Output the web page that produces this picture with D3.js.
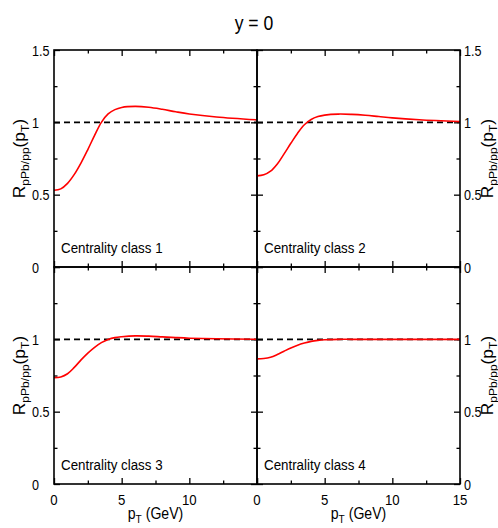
<!DOCTYPE html>
<html>
<head>
<meta charset="utf-8">
<script src="https://cdn.jsdelivr.net/npm/d3@7/dist/d3.min.js"></script>
<style>
body{margin:0;background:#fff;}
text{font-family:"Liberation Sans",Arial,Helvetica,sans-serif;fill:#000;}
</style>
</head>
<body>
<svg id="chart" width="498" height="528"></svg>
<script>
'use strict';

//Data
var ptVals = [0,0.5,1,1.5,2,2.5,3,3.5,4,4.5,5,6,7,8,9,10,12,15];
var class1 = [0.53,0.54,0.578,0.64,0.72,0.812,0.91,1.0,1.058,1.088,1.103,1.11,1.104,1.09,1.073,1.058,1.037,1.017];
var class2 = [0.63,0.637,0.662,0.712,0.782,0.855,0.925,0.983,1.02,1.04,1.05,1.057,1.055,1.049,1.04,1.031,1.018,1.005];
var class3 = [0.735,0.74,0.762,0.806,0.858,0.905,0.945,0.977,0.999,1.012,1.018,1.024,1.022,1.017,1.012,1.008,1.004,1.0];
var class4 = [0.865,0.867,0.876,0.895,0.918,0.94,0.959,0.974,0.986,0.993,0.997,1.0,1.0,1.0,1.0,1.0,1.0,1.0];
var classNames = ['Centrality class 1','Centrality class 2','Centrality class 3','Centrality class 4'];
var xMajor = [0,5,10,15];
var xMinor = [2.5,7.5,12.5];
var yMajor = [0,0.5,1,1.5];
var yMinor = [0.25,0.75,1.25];
var refLevel = 1;

var svg = d3.select('#chart');

//Panel boxes
var colX = [[54,257],[257,460]];
var rowY = [[50,267],[267,484]];
var series = [class1,class2,class3,class4];

//Condensed text helper
var addText = function(g,x,y,txt,size,anchor,sx){
	return g.append('text')
		.attr('transform','translate('+x+','+y+') scale('+sx+',1)')
		.attr('font-size',size)
		.attr('text-anchor',anchor)
		.text(txt);
};

var yFmt = function(d){ return d === 0 ? '0' : String(d); };

var line = d3.line().curve(d3.curveCatmullRom.alpha(0.5));

for(var i=0; i<4; i++){
	var col = i % 2;
	var row = Math.floor(i/2);
	var x = d3.scaleLinear().domain([0,15]).range(colX[col]);
	var y = d3.scaleLinear().domain([0,1.5]).range([rowY[row][1],rowY[row][0]]);
	var g = svg.append('g');

	//Inward ticks on all four sides
	var axes = [
		[d3.axisBottom(x), 'translate(0,'+rowY[row][1]+')', xMajor, xMinor],
		[d3.axisTop(x), 'translate(0,'+rowY[row][0]+')', xMajor, xMinor],
		[d3.axisLeft(y), 'translate('+colX[col][0]+',0)', yMajor, yMinor],
		[d3.axisRight(y), 'translate('+colX[col][1]+',0)', yMajor, yMinor]
	];
	axes.forEach(function(a){
		g.append('g').attr('transform',a[1])
			.call(a[0].tickValues(a[2]).tickSize(-6).tickFormat(''))
			.call(function(s){ s.select('.domain').remove(); s.selectAll('line').attr('stroke','#000').attr('stroke-width',1.3); });
		g.append('g').attr('transform',a[1])
			.call(a[0].tickValues(a[3]).tickSize(-3.5).tickFormat(''))
			.call(function(s){ s.select('.domain').remove(); s.selectAll('line').attr('stroke','#000').attr('stroke-width',1.3); });
	});

	//Reference line at 1
	g.append('line')
		.attr('x1',x(0)).attr('x2',x(15))
		.attr('y1',y(refLevel)).attr('y2',y(refLevel))
		.attr('stroke','#000').attr('stroke-width',1.6)
		.attr('stroke-dasharray','6,4');

	//Curve
	var pts = ptVals.map(function(p,j){ return [x(p), y(series[i][j])]; });
	g.append('path')
		.attr('d',line(pts))
		.attr('fill','none')
		.attr('stroke','#ff0000')
		.attr('stroke-width',1.6);

	//Frame
	g.append('rect')
		.attr('x',colX[col][0]).attr('y',rowY[row][0])
		.attr('width',colX[col][1]-colX[col][0])
		.attr('height',rowY[row][1]-rowY[row][0])
		.attr('fill','none').attr('stroke','#000').attr('stroke-width',1.6);

	addText(g, colX[col][0]+7, rowY[row][1]-14.5, classNames[i], 15, 'start', 0.89);

	//Y tick labels
	var yLab = row === 0 ? yMajor : yMajor.slice(0,3);
	var labX = col === 0 ? 32 : 464;
	yLab.forEach(function(v){
		addText(g, labX, y(v)+5.5, yFmt(v), 14, 'start', 0.9);
	});

	//X tick labels on bottom row
	if(row === 1){
		var xLab = col === 0 ? xMajor.slice(0,3) : xMajor;
		xLab.forEach(function(v){
			addText(g, x(v), 505, String(v), 15, 'middle', 0.88);
		});
		var xt = g.append('text')
			.attr('transform','translate('+((colX[col][0]+colX[col][1])/2)+',519) scale(0.88,1)')
			.attr('font-size',16).attr('text-anchor','middle');
		xt.append('tspan').text('p');
		xt.append('tspan').attr('font-size',11.5).attr('dy',4).text('T');
		xt.append('tspan').attr('dy',-4).text(' (GeV)');
	}

	//Y axis title
	var yx = col === 0 ? 25 : 493;
	var yt = g.append('text')
		.attr('transform','translate('+yx+','+((rowY[row][0]+rowY[row][1])/2)+') rotate(-90) scale(1.05,1)')
		.attr('font-size',16.5).attr('text-anchor','middle');
	yt.append('tspan').text('R');
	yt.append('tspan').attr('font-size',11.5).attr('dy',4).text('pPb/pp');
	yt.append('tspan').attr('dy',-4).text('(p');
	yt.append('tspan').attr('font-size',11.5).attr('dy',4).text('T');
	yt.append('tspan').attr('dy',-4).text(')');
}

//Title
addText(svg, 254, 30, 'y = 0', 20, 'middle', 0.88);
</script>
</body>
</html>
